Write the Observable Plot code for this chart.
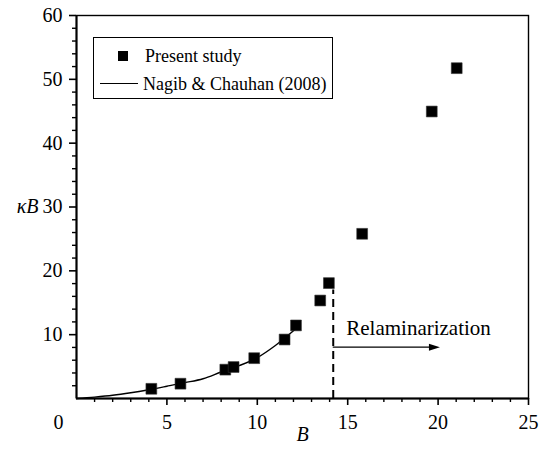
<!DOCTYPE html>
<html>
<head>
<meta charset="utf-8">
<script src="https://cdn.jsdelivr.net/npm/d3@7"></script>
<script src="https://cdn.jsdelivr.net/npm/@observablehq/plot@0.6"></script>
<style>
  html, body { margin: 0; padding: 0; background: #fff; }
  #wrap { position: relative; width: 540px; height: 457px; font-family: 'Liberation Serif', 'Times New Roman', serif; }
  #chart svg text, #chart svg tspan { font-family: 'Liberation Serif', 'Times New Roman', serif !important; }
  #legend { position: absolute; left: 93px; top: 37px; width: 240px; height: 62px; border: 1.2px solid #000; background: #fff; box-sizing: border-box; }
  #legend .row { position: absolute; font-family: 'Liberation Serif', 'Times New Roman', serif; font-size: 18px; line-height: 18px; white-space: nowrap; color: #000; }
  #legend .sq { position: absolute; width: 10px; height: 10px; background: #000; }
  #legend .ln { position: absolute; height: 0; border-top: 1.3px solid #000; }
</style>
</head>
<body>
<div id="wrap">
  <div id="chart"></div>
  <div id="legend">
    <div class="sq" style="left:24px; top:13px;"></div>
    <div class="row" style="left:51px; top:9px;">Present study</div>
    <div class="ln" style="left:6px; top:45px; width:38px;"></div>
    <div class="row" style="left:49px; top:37px;">Nagib &amp; Chauhan (2008)</div>
  </div>
</div>
<script>
// Present study: Clauser-type parameter B against kappa*B
const studyB  = [4.14, 5.75, 8.23, 8.69, 9.83, 11.51, 12.14, 13.48, 13.96, 15.80, 19.65, 21.03];
const studyKB = [1.52, 2.32, 4.52, 4.93, 6.32, 9.24, 11.45, 15.35, 18.08, 25.80, 44.96, 51.75];

// Nagib & Chauhan (2008) correlation
const ncB  = [0, 1, 2, 3, 4, 5, 6, 7, 8, 9, 10, 11, 12, 12.2];
const ncKB = [0, 0.22, 0.5, 0.9, 1.38, 1.92, 2.48, 3.1, 4.15, 5.15, 6.4, 8.3, 10.6, 11.1];

// Relaminarization threshold and annotation
const threshB = [14.2];
const threshTop = 17;
const arrowY = 8.04;
const arrowFrom = 14.2;
const arrowTo = 20.1;
const noteText = ["Relaminarization"];
const noteB = 14.92;
const noteKB = 11.0;

// Axis ticks
const xMajor = [5, 10, 15, 20, 25];
const xMinor = d3.range(0, 26, 1).filter(v => v % 5 !== 0);
const yMajor = [10, 20, 30, 40, 50, 60];
const yMinor = d3.range(2, 60, 2).filter(v => v % 10 !== 0);

const study = studyB.map((b, i) => ({B: b, kB: studyKB[i]}));
const nagib = ncB.map((b, i) => ({B: b, kB: ncKB[i]}));

// Narrow filled arrow head, tip at the origin, pointing right
const arrowHead = {
  draw(ctx) {
    ctx.moveTo(0, 0);
    ctx.lineTo(-11, -3.5);
    ctx.lineTo(-11, 3.5);
    ctx.closePath();
  }
};

const font = "'Liberation Serif', 'Times New Roman', serif";

const chart = Plot.plot({
  width: 540,
  height: 457,
  marginLeft: 76,
  marginRight: 12,
  marginTop: 15,
  marginBottom: 59,
  style: {fontFamily: font, fontSize: "20px", color: "#000", background: "#fff"},
  x: {domain: [0, 25]},
  y: {domain: [0, 60]},
  marks: [
    Plot.frame({stroke: "#000", strokeWidth: 1.4}),
    Plot.ruleX([0], {stroke: "#000", strokeWidth: 2}),
    Plot.ruleY([0], {stroke: "#000", strokeWidth: 2}),
    // x axis
    Plot.axisX({ticks: xMajor, tickSize: 7, tickPadding: 9, tickFormat: d => String(d), strokeWidth: 1.6, fontSize: 20, label: null}),
    Plot.axisX({ticks: [0], tickSize: 0, tickPadding: 16, dx: -18, tickFormat: d => String(d), fontSize: 20, label: null}),
    Plot.axisX({ticks: xMinor, tickSize: 4, tickFormat: () => "", strokeWidth: 1.4, label: null}),
    // y axis
    Plot.axisY({ticks: yMajor, tickSize: 7, tickPadding: 7, tickFormat: d => String(d), strokeWidth: 1.6, fontSize: 20, label: null}),
    Plot.axisY({ticks: yMinor, tickSize: 4, tickFormat: () => "", strokeWidth: 1.4, label: null}),
    // axis titles
    Plot.text(["B"], {frameAnchor: "bottom", x: () => 12.5, dy: 42, fontStyle: "italic", fontSize: 20, fill: "#000"}),
    Plot.text(["κB"], {frameAnchor: "left", y: () => 30, dx: -38, textAnchor: "end", fontStyle: "italic", fontSize: 20, fill: "#000"}),
    // correlation curve
    Plot.line(nagib, {x: "B", y: "kB", stroke: "#000", strokeWidth: 1.4, curve: "monotone-x"}),
    // threshold and arrow
    Plot.ruleX(threshB, {y1: 0, y2: threshTop, stroke: "#000", strokeWidth: 2, strokeDasharray: "8,5"}),
    Plot.ruleY([arrowY], {x1: arrowFrom, x2: arrowTo - 0.5, stroke: "#000", strokeWidth: 1.3}),
    Plot.dot([arrowTo], {x: d => d, y: () => arrowY, symbol: arrowHead, fill: "#000", stroke: "none"}),
    Plot.text(noteText, {x: () => noteB, y: () => noteKB, textAnchor: "start", fontSize: 21, fill: "#000"}),
    // data
    Plot.dot(study, {x: "B", y: "kB", symbol: "square", r: 6.1, fill: "#000", stroke: "#333", strokeWidth: 0.6})
  ]
});

document.getElementById("chart").appendChild(chart);
</script>
</body>
</html>
